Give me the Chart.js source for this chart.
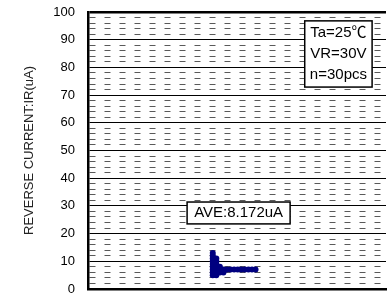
<!DOCTYPE html>
<html>
<head>
<meta charset="utf-8">
<script src="https://cdn.jsdelivr.net/npm/chart.js"></script>
<style>
  html, body { margin: 0; padding: 0; background: #fff; }
  canvas { display: block; }
</style>
</head>
<body>
<canvas id="irChart" width="389" height="302"></canvas>
<script>
// 読み取ったデータ（30pcs）
const stackPos  = [0, 0, 0, 0, 0, 0, 0, 0, 0,  1, 1, 1, 1, 1, 1, 1,  2, 2, 2,  3, 3,  4, 5, 6, 7, 8, 9, 10, 11, 12];
const currentUA = [13, 12, 11, 10, 9, 8, 7, 6, 5,  11, 10, 9, 8, 7, 6, 5,  8, 7, 6,  7, 6,  7, 7, 7, 7, 7, 7, 7, 7, 7];

const yMin = 0;
const yMax = 100;
const yMinorStep = 2;
const yMajorStep = 10;

const axisTitle = 'REVERSE CURRENT:IR(uA)';
const conditionLines = ['Ta=25℃', 'VR=30V', 'n=30pcs'];
const aveLabel = 'AVE:8.172uA';

const FONT = '"Liberation Sans", Arial, "Noto Sans CJK JP", sans-serif';

function isMajor(ctx) {
    return ctx.tick && ctx.tick.value % yMajorStep === 0;
}

// 注記ボックス
const notePlugin = {
    id: 'notes',
    afterDraw(chart) {
        const { ctx, scales: { x, y } } = chart;

        const drawBox = (x0, x1, y0, y1, lines, lineGap) => {
            const left = x.getPixelForValue(x0);
            const right = x.getPixelForValue(x1);
            const top = y.getPixelForValue(y0);
            const bottom = y.getPixelForValue(y1);
            ctx.save();
            ctx.fillStyle = '#fff';
            ctx.fillRect(left, top, right - left, bottom - top);
            ctx.strokeStyle = '#000';
            ctx.lineWidth = 1.5;
            ctx.strokeRect(left, top, right - left, bottom - top);
            ctx.fillStyle = '#000';
            ctx.font = '15px ' + FONT;
            ctx.textAlign = 'center';
            ctx.textBaseline = 'middle';
            const cx = (left + right) / 2;
            const cy = (top + bottom) / 2;
            lines.forEach((t, i) => {
                ctx.fillText(t, cx, cy + (i - (lines.length - 1) / 2) * lineGap);
            });
            ctx.restore();
        };

        drawBox(25.8, 44.7, 96.8, 72.9, conditionLines, 21);
        drawBox(-7.2, 21.7, 31.4, 23.5, [aveLabel], 0);
    }
};

const canvas = document.getElementById('irChart');

new Chart(canvas, {
    type: 'scatter',
    data: {
        datasets: [{
            data: stackPos.map((s, i) => ({ x: s, y: currentUA[i] })),
            backgroundColor: '#000080',
            borderColor: '#000080',
            borderWidth: 0,
            pointRadius: 3,
            pointHoverRadius: 3
        }]
    },
    options: {
        responsive: false,
        animation: false,
        devicePixelRatio: 1,
        layout: {
            padding: { left: 0, right: 0, top: 12, bottom: 13 }
        },
        plugins: {
            legend: { display: false },
            tooltip: { enabled: false }
        },
        scales: {
            x: {
                type: 'linear',
                min: -35,
                max: 48.6,
                ticks: { display: false },
                grid: { display: false, drawTicks: false },
                border: { display: true, color: '#000', width: 2.5 }
            },
            y: {
                type: 'linear',
                min: yMin,
                max: yMax,
                afterFit: (scale) => { scale.width = 88; },
                ticks: {
                    stepSize: yMinorStep,
                    autoSkip: false,
                    maxTicksLimit: 100,
                    padding: 3,
                    color: '#000',
                    font: { family: FONT, size: 13 },
                    callback: (v) => (v % yMajorStep === 0 ? String(v) : '')
                },
                grid: {
                    drawTicks: true,
                    tickLength: 10,
                    tickColor: 'rgba(0,0,0,0)',
                    color: (ctx) => (isMajor(ctx) ? '#000' : '#5a5a5a'),
                    lineWidth: (ctx) => (ctx.tick && ctx.tick.value === yMax ? 2.5 : 1)
                },
                border: {
                    display: true,
                    color: '#000',
                    width: 2.5,
                    dash: (ctx) => (ctx.tick && !isMajor(ctx) ? [6, 9] : [])
                },
                title: {
                    display: true,
                    text: axisTitle,
                    color: '#222',
                    font: { family: FONT, size: 13 },
                    padding: { top: 22, bottom: 0 }
                }
            }
        }
    },
    plugins: [notePlugin]
});
</script>
</body>
</html>
